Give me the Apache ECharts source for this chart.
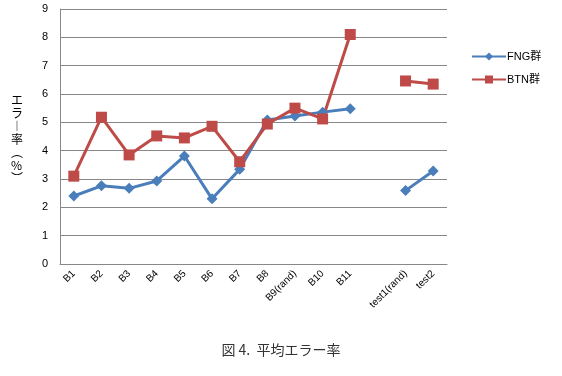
<!DOCTYPE html>
<html>
<head>
<meta charset="utf-8">
<title>平均エラー率</title>
<script src="https://cdn.jsdelivr.net/npm/echarts@6/dist/echarts.min.js"></script>
<style>
  html, body { margin: 0; padding: 0; background: #fff; }
  #main { width: 562px; height: 376px; }
</style>
</head>
<body>
<div id="main"></div>
<script>
// カテゴリ（test1 の前は空欄）
var categories = ['B1', 'B2', 'B3', 'B4', 'B5', 'B6', 'B7', 'B8', 'B9(rand)', 'B10', 'B11', '', 'test1(rand)', 'test2'];
var fngData = [2.4, 2.76, 2.67, 2.93, 3.81, 2.3, 3.34, 5.08, 5.22, 5.36, 5.48, null, 2.59, 3.28];
var btnData = [3.1, 5.18, 3.85, 4.52, 4.45, 4.86, 3.61, 4.94, 5.5, 5.12, 8.1, null, 6.46, 6.35];
var yTicks = [0, 9, 1];  // min, max, interval
var yTitle = 'エ\nラ\n︱\n率\n︵\n%\n︶';  // 縦書き

var chart = echarts.init(document.getElementById('main'));

var option = {
  animation: false,
  textStyle: { fontFamily: 'Arial, "Noto Sans CJK JP", sans-serif' },
  grid: { left: 60, right: 115, top: 9, bottom: 112 },
  legend: {
    orient: 'vertical',
    left: 466,
    top: 46,
    itemWidth: 34,
    itemHeight: 10,
    itemGap: 12,
    textStyle: { fontSize: 11, color: '#000', padding: [0, 0, 0, -4] },
    data: ['FNG群', 'BTN群']
  },
  xAxis: {
    type: 'category',
    data: categories,
    boundaryGap: true,
    axisLine: { lineStyle: { color: '#888' } },
    axisTick: { show: false },
    axisLabel: { rotate: 45, fontSize: 10, color: '#000', margin: 8, interval: 0 }
  },
  yAxis: {
    type: 'value',
    min: yTicks[0],
    max: yTicks[1],
    interval: yTicks[2],
    axisLine: { show: true, lineStyle: { color: '#888' } },
    axisTick: { show: false },
    axisLabel: { fontSize: 11, color: '#000', margin: 12 },
    splitLine: { lineStyle: { color: '#888', width: 1 } }
  },
  series: [
    {
      name: 'FNG群',
      type: 'line',
      data: fngData,
      connectNulls: false,
      symbol: 'diamond',
      symbolSize: 11,
      lineStyle: { color: '#4A7EBB', width: 3 },
      itemStyle: { color: '#4A7EBB' }
    },
    {
      name: 'BTN群',
      type: 'line',
      data: btnData,
      connectNulls: false,
      symbol: 'rect',
      symbolSize: 11,
      lineStyle: { color: '#BE4B48', width: 3 },
      itemStyle: { color: '#BE4B48' }
    }
  ],
  graphic: [
    {
      type: 'text',
      left: 11,
      top: 94,
      style: {
        text: yTitle,
        font: '12px "Noto Sans CJK JP", sans-serif',
        lineHeight: 13,
        align: 'center',
        fill: '#000'
      }
    },
    {
      type: 'text',
      left: 'center',
      top: 343,
      style: {
        text: '図 4.  平均エラー率',
        font: '14px "Noto Sans CJK JP", serif',
        fill: '#333'
      }
    }
  ]
};

chart.setOption(option);
</script>
</body>
</html>
